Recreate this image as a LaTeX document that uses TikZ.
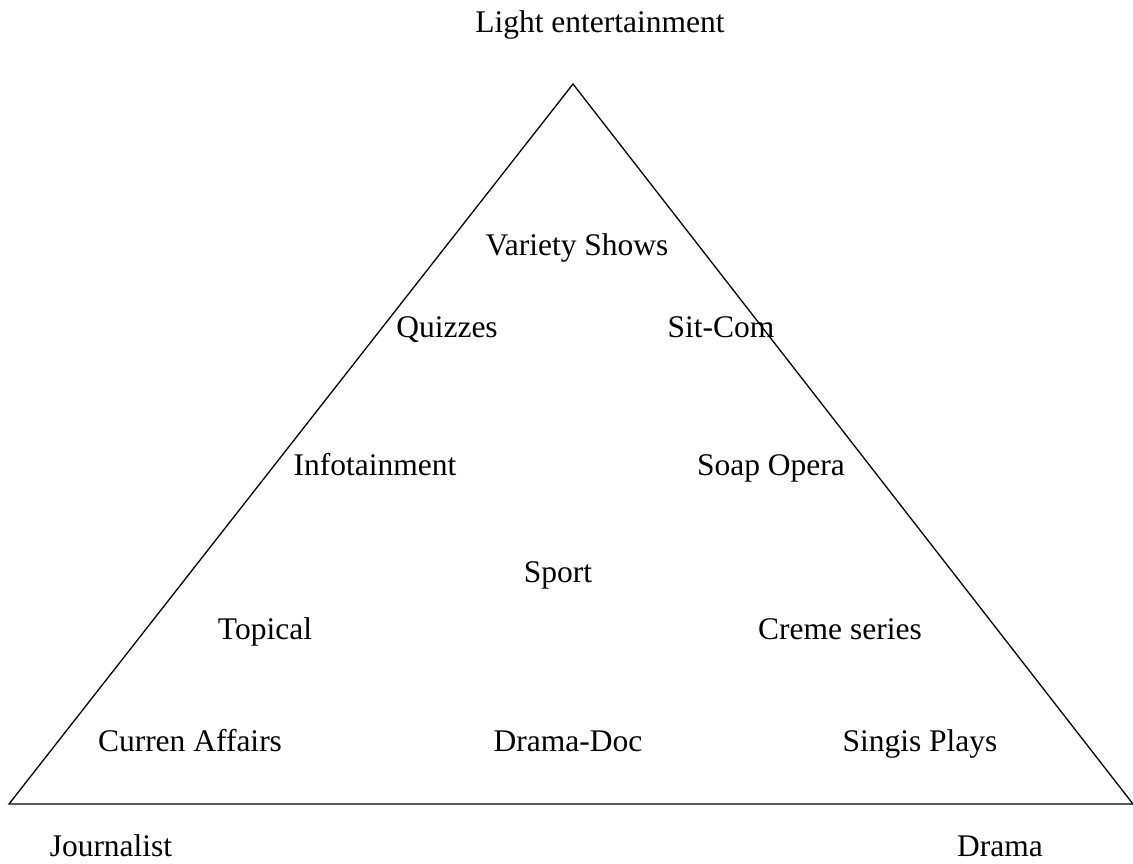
\documentclass[tikz,border=0pt]{standalone}
\usepackage{fontspec}
\setmainfont{Liberation Serif}
\usepackage{tikz}
\usetikzlibrary{positioning}

\begin{document}
\begin{tikzpicture}[x=1pt, y=-1pt, genre/.style={anchor=base, inner sep=0pt, font=\fontsize{31.5}{36}\selectfont}]

\useasboundingbox (0,0) rectangle (1133,863);

% Corners
\coordinate (apex) at (573,84);
\coordinate (leftc) at (9,804);
\coordinate (rightc) at (1133,804);

% Triangle
\draw[line width=1.3pt] (apex) -- (rightc) -- (leftc) -- cycle;

% Corner labels
\node[genre] (light) at (600,32) {Light entertainment};
\node[genre] (journalist) at (111,856) {Journalist};
\node[genre] (drama) at (1000,856) {Drama};

% Genres inside
\node[genre] (variety) at (577,255) {Variety Shows};
\node[genre] (quizzes) at (447,337) {Quizzes};
\node[genre] (sitcom) at (721,337) {Sit-Com};
\node[genre] (info) at (375,475) {Infotainment};
\node[genre] (soap) at (771,475) {Soap Opera};
\node[genre] (sport) at (558,582) {Sport};
\node[genre] (topical) at (265,639) {Topical};
\node[genre] (creme) at (840,639) {Creme series};
\node[genre] (curren) at (190,751) {Curren Affairs};
\node[genre] (dramadoc) at (568,751) {Drama-Doc};
\node[genre] (singis) at (920,751) {Singis Plays};

\end{tikzpicture}
\end{document}
